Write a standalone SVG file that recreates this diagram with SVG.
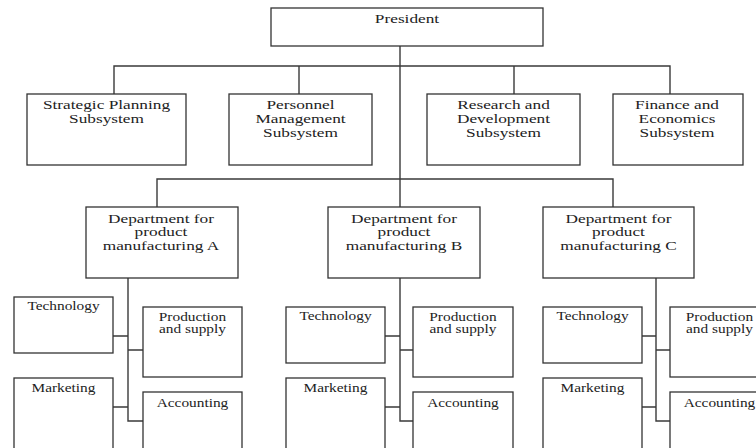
<svg xmlns="http://www.w3.org/2000/svg" width="756" height="448" viewBox="0 0 756 448">
<style>
.b{fill:#fff;stroke:#333;stroke-width:1.3}
.c{fill:none;stroke:#3a3a3a;stroke-width:1.4}
.t{font-family:"Liberation Serif","Times New Roman",serif;font-size:13px;fill:#222;text-anchor:middle}
.s{font-family:"Liberation Serif","Times New Roman",serif;font-size:12px;fill:#222;text-anchor:middle}
</style>
<rect x="0" y="0" width="756" height="448" fill="#fff"/>
<g id="connectors" class="c">
<path d="M400 46V207M114 94V66H670V94M299 66V94M514 66V94"/>
<path d="M157 207V179H613V207"/>
<path d="M128 278V421H143M113 336H128M128 350H143M113 407H128"/>
<path d="M400 278V421H413M385 336H400M400 350H413M385 407H400"/>
<path d="M656 278V421H670M642 336H656M656 350H670M642 407H656"/>
</g>
<g id="president"><rect class="b" x="271" y="8" width="272" height="38"/><text class="t" transform="translate(407 23) scale(1.33 1)">President</text></g>
<g id="strategic"><rect class="b" x="27" y="94" width="159" height="71"/><text class="t" transform="translate(106.5 109) scale(1.33 1)"><tspan x="0" y="0">Strategic Planning</tspan><tspan x="0" y="14">Subsystem</tspan></text></g>
<g id="personnel"><rect class="b" x="229" y="94" width="143" height="71"/><text class="t" transform="translate(300.5 109) scale(1.33 1)"><tspan x="0" y="0">Personnel</tspan><tspan x="0" y="14">Management</tspan><tspan x="0" y="28">Subsystem</tspan></text></g>
<g id="research"><rect class="b" x="427" y="94" width="153" height="71"/><text class="t" transform="translate(503.5 109) scale(1.33 1)"><tspan x="0" y="0">Research and</tspan><tspan x="0" y="14">Development</tspan><tspan x="0" y="28">Subsystem</tspan></text></g>
<g id="finance"><rect class="b" x="613" y="94" width="130" height="71"/><text class="t" transform="translate(677 109) scale(1.33 1)"><tspan x="0" y="0">Finance and</tspan><tspan x="0" y="14">Economics</tspan><tspan x="0" y="28">Subsystem</tspan></text></g>
<g id="deptA"><rect class="b" x="86" y="207" width="152" height="71"/><text class="t" transform="translate(161 223) scale(1.33 1)"><tspan x="0" y="0">Department for</tspan><tspan x="0" y="13.5">product</tspan><tspan x="0" y="27">manufacturing A</tspan></text></g>
<g id="deptB"><rect class="b" x="328" y="207" width="152" height="71"/><text class="t" transform="translate(404 223) scale(1.33 1)"><tspan x="0" y="0">Department for</tspan><tspan x="0" y="13.5">product</tspan><tspan x="0" y="27">manufacturing B</tspan></text></g>
<g id="deptC"><rect class="b" x="543" y="207" width="151" height="71"/><text class="t" transform="translate(618.5 223) scale(1.33 1)"><tspan x="0" y="0">Department for</tspan><tspan x="0" y="13.5">product</tspan><tspan x="0" y="27">manufacturing C</tspan></text></g>
<g id="techA"><rect class="b" x="14" y="297" width="99" height="56"/><text class="s" transform="translate(63.5 310) scale(1.28 1)">Technology</text></g>
<g id="prodA"><rect class="b" x="143" y="307" width="99" height="70"/><text class="s" transform="translate(192.5 321) scale(1.28 1)"><tspan x="0" y="0">Production</tspan><tspan x="0" y="12">and supply</tspan></text></g>
<g id="markA"><rect class="b" x="14" y="378" width="99" height="80"/><text class="s" transform="translate(63.5 392) scale(1.28 1)">Marketing</text></g>
<g id="accA"><rect class="b" x="143" y="392" width="99" height="66"/><text class="s" transform="translate(192.5 407) scale(1.28 1)">Accounting</text></g>
<g id="techB"><rect class="b" x="286" y="307" width="99" height="56"/><text class="s" transform="translate(335.5 320) scale(1.28 1)">Technology</text></g>
<g id="prodB"><rect class="b" x="413" y="307" width="100" height="70"/><text class="s" transform="translate(463 321) scale(1.28 1)"><tspan x="0" y="0">Production</tspan><tspan x="0" y="12">and supply</tspan></text></g>
<g id="markB"><rect class="b" x="286" y="378" width="99" height="80"/><text class="s" transform="translate(335.5 392) scale(1.28 1)">Marketing</text></g>
<g id="accB"><rect class="b" x="413" y="392" width="100" height="66"/><text class="s" transform="translate(463 407) scale(1.28 1)">Accounting</text></g>
<g id="techC"><rect class="b" x="543" y="307" width="99" height="56"/><text class="s" transform="translate(592.5 320) scale(1.28 1)">Technology</text></g>
<g id="prodC"><rect class="b" x="670" y="307" width="99" height="70"/><text class="s" transform="translate(719.5 321) scale(1.28 1)"><tspan x="0" y="0">Production</tspan><tspan x="0" y="12">and supply</tspan></text></g>
<g id="markC"><rect class="b" x="543" y="378" width="99" height="80"/><text class="s" transform="translate(592.5 392) scale(1.28 1)">Marketing</text></g>
<g id="accC"><rect class="b" x="670" y="392" width="99" height="66"/><text class="s" transform="translate(719.5 407) scale(1.28 1)">Accounting</text></g>
</svg>
